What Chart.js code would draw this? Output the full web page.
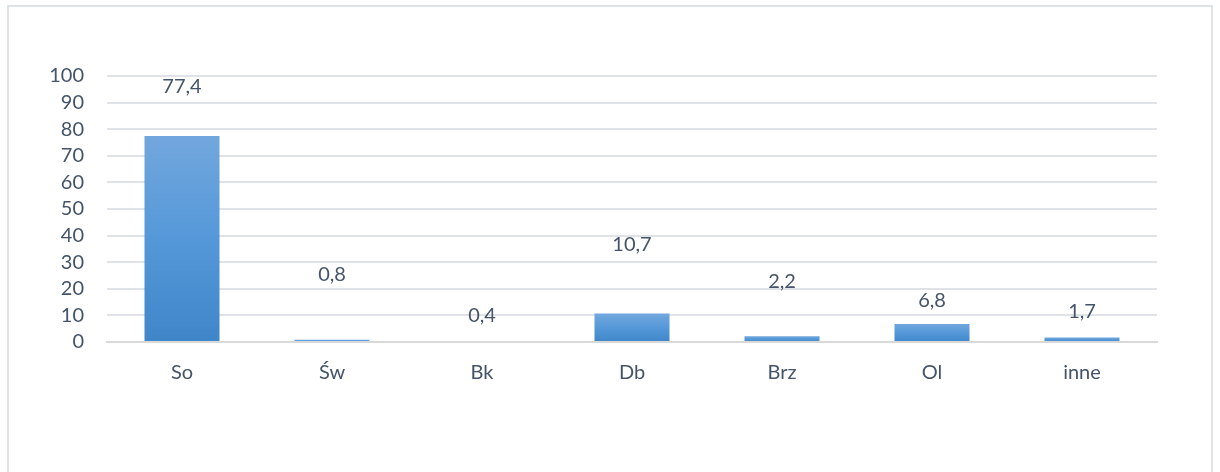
<!DOCTYPE html>
<html>
<head>
<meta charset="utf-8">
<script src="https://cdn.jsdelivr.net/npm/chart.js@4/dist/chart.umd.min.js"></script>
<style>
  html, body { margin: 0; padding: 0; background: #ffffff; width: 1220px; height: 472px; overflow: hidden; }
  #frame { position: absolute; left: 7px; top: 5px; width: 1206px; height: 480px; border: 2px solid #dfe2e6; box-sizing: border-box; }
  #wrap { position: absolute; left: 0; top: 0; width: 1220px; height: 472px; }
</style>
</head>
<body>
<div id="frame"></div>
<div id="wrap"><canvas id="c" width="1220" height="472"></canvas></div>
<script>
// Data
const categories = ['So', 'Św', 'Bk', 'Db', 'Brz', 'Ol', 'inne'];
const values = [77.4, 0.8, 0.4, 10.7, 2.2, 6.8, 1.7];
// Label anchor heights (in axis units), as placed in the original chart
const labelAt = [95.9, 25.3, 10.0, 36.7, 22.8, 15.7, 11.5];
const yTicks = [0, 10, 20, 30, 40, 50, 60, 70, 80, 90, 100];

const textColor = '#44546a';
const fontFamily = 'Lato, "Open Sans", sans-serif';
const fontSize = 20;

function barGradient(context) {
  const chart = context.chart;
  const scale = chart.scales && chart.scales.y;
  if (!scale || context.dataIndex === undefined) return '#5b9bd5';
  const v = context.dataset.data[context.dataIndex];
  const top = scale.getPixelForValue(v);
  const bottom = scale.getPixelForValue(0);
  if (!isFinite(top) || !isFinite(bottom) || Math.abs(bottom - top) < 0.5) return '#5b9bd5';
  const g = chart.ctx.createLinearGradient(0, top, 0, bottom);
  g.addColorStop(0, '#72a7dd');
  g.addColorStop(0.5, '#5598d9');
  g.addColorStop(1, '#3f86c8');
  return g;
}

const labelPlugin = {
  id: 'valueLabels',
  afterDatasetsDraw(chart) {
    const ctx = chart.ctx;
    const meta = chart.getDatasetMeta(0);
    const y = chart.scales.y;
    ctx.save();
    ctx.fillStyle = textColor;
    ctx.font = fontSize + 'px ' + fontFamily;
    ctx.textAlign = 'center';
    ctx.textBaseline = 'middle';
    meta.data.forEach((bar, i) => {
      const txt = String(values[i]).replace('.', ',');
      ctx.fillText(txt, bar.x, y.getPixelForValue(labelAt[i]));
    });
    ctx.restore();
  }
};

new Chart(document.getElementById('c'), {
  type: 'bar',
  data: {
    labels: categories,
    datasets: [{
      data: values,
      backgroundColor: barGradient,
      borderWidth: 0,
      categoryPercentage: 1.0,
      barPercentage: 0.5
    }]
  },
  options: {
    responsive: false,
    animation: false,
    devicePixelRatio: 1,
    layout: { padding: { top: 76, right: 63, bottom: 0, left: 0 } },
    plugins: { legend: { display: false }, tooltip: { enabled: false } },
    scales: {
      x: {
        grid: { display: false, drawTicks: false },
        border: { display: true, color: '#d9d9d9', width: 2 },
        ticks: { color: textColor, font: { family: fontFamily, size: fontSize }, padding: 19, autoSkip: false },
        afterFit(s) { s.height = 130; }
      },
      y: {
        min: 0, max: 100,
        afterBuildTicks(s) { s.ticks = yTicks.map(v => ({ value: v })); },
        grid: { color: '#dfe2e6', lineWidth: 2, drawTicks: false },
        border: { display: false },
        ticks: { color: textColor, font: { family: fontFamily, size: fontSize }, padding: 23, autoSkip: false },
        afterFit(s) { s.width = 107; }
      }
    }
  },
  plugins: [labelPlugin]
});
</script>
</body>
</html>
